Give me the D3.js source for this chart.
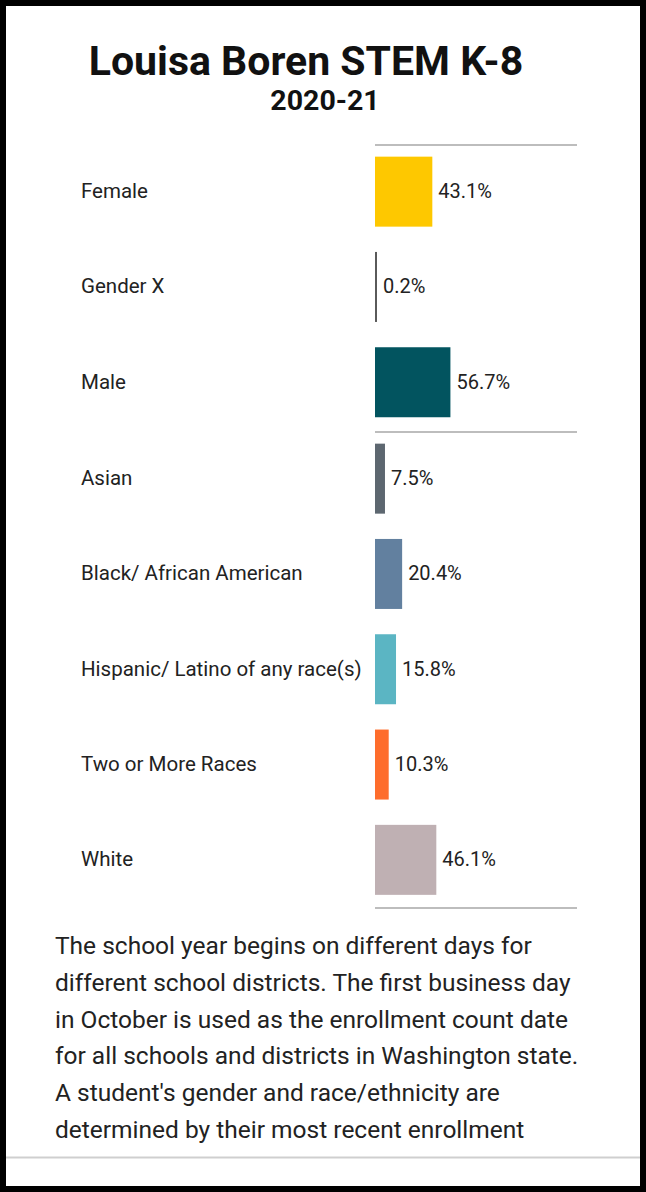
<!DOCTYPE html>
<html>
<head>
<meta charset="utf-8">
<script src="https://cdn.jsdelivr.net/npm/d3@7"></script>
<style>
html,body{margin:0;padding:0;background:#fff;}
svg{display:block;}
text{font-family:Roboto,"Noto Sans",sans-serif;}
</style>
</head>
<body>
<svg id="chart" width="646" height="1192"></svg>
<script>
const titleText = "Louisa Boren STEM K-8";
const subtitleText = "2020-21";
const genderCategories = ["Female", "Gender X", "Male"];
const genderValues = [43.1, 0.2, 56.7];
const genderColors = ["#fec800", "#5a5a5a", "#02545f"];
const raceCategories = ["Asian", "Black/ African American", "Hispanic/ Latino of any race(s)", "Two or More Races", "White"];
const raceValues = [7.5, 20.4, 15.8, 10.3, 46.1];
const raceColors = ["#5d6770", "#62809f", "#5bb5c3", "#fe6d2c", "#bfb0b3"];
const noteLines = [
  "The school year begins on different days for",
  "different school districts. The first business day",
  "in October is used as the enrollment count date",
  "for all schools and districts in Washington state.",
  "A student's gender and race/ethnicity are",
  "determined by their most recent enrollment"
];

const svg = d3.select("#chart");
const W = 646, H = 1192;

svg.append("rect").attr("x",0).attr("y",0).attr("width",W).attr("height",H).attr("fill","#fff");

// title
svg.append("text").attr("x",306).attr("y",75).attr("text-anchor","middle")
  .attr("font-size",41).attr("font-weight",700).attr("fill","#111").text(titleText);
svg.append("text").attr("x",325).attr("y",110).attr("text-anchor","middle")
  .attr("font-size",28.5).attr("font-weight",700).attr("fill","#111").text(subtitleText);

const x = d3.scaleLinear().domain([0,100]).range([0,133]);
const x0 = 375, lineEnd = 577, labelX = 81;
const rowPitch = 95.3, barH = 70;

const genderData = genderCategories.map((c,i)=>({cat:c, v:genderValues[i], col:genderColors[i]}));
const raceData = raceCategories.map((c,i)=>({cat:c, v:raceValues[i], col:raceColors[i]}));

function drawGroup(data, top) {
  const y = d3.scaleBand().domain(data.map(d=>d.cat))
    .range([top, top + rowPitch*data.length]).paddingInner(1-barH/rowPitch).paddingOuter((1-barH/rowPitch)/2);
  const g = svg.append("g");
  g.selectAll("rect.bar").data(data).join("rect").attr("class","bar")
    .attr("x",x0).attr("y",d=>y(d.cat)).attr("height",y.bandwidth())
    .attr("width",d=>Math.max(x(d.v),2)).attr("fill",d=>d.col);
  g.selectAll("text.lab").data(data).join("text").attr("class","lab")
    .attr("x",labelX).attr("y",d=>y(d.cat)+y.bandwidth()/2+6.5)
    .attr("font-size",20.5).attr("fill","#222").text(d=>d.cat);
  g.selectAll("text.val").data(data).join("text").attr("class","val")
    .attr("x",d=>x0+Math.max(x(d.v),2)+6).attr("y",d=>y(d.cat)+y.bandwidth()/2+6.5)
    .attr("font-size",20).attr("fill","#222").text(d=>d.v.toFixed(1)+"%");
}

// separators
[145, 432, 908].forEach(yy=>{
  svg.append("line").attr("x1",x0).attr("x2",lineEnd).attr("y1",yy).attr("y2",yy)
    .attr("stroke","#bdbdbd").attr("stroke-width",2);
});

drawGroup(genderData, 144);
drawGroup(raceData, 431);

// note text
const note = svg.append("g");
note.selectAll("text").data(noteLines).join("text")
  .attr("x",55).attr("y",(d,i)=>954 + i*36.8)
  .attr("font-size",24.5).attr("fill","#222").text(d=>d);

// bottom bar region
svg.append("rect").attr("x",0).attr("y",1157).attr("width",W).attr("height",H-1157).attr("fill","#fff");
svg.append("line").attr("x1",6).attr("x2",641).attr("y1",1157.5).attr("y2",1157.5)
  .attr("stroke","#cfcfcf").attr("stroke-width",2);

// frame
svg.append("rect").attr("x",3).attr("y",3).attr("width",W-6).attr("height",H-6)
  .attr("fill","none").attr("stroke","#000").attr("stroke-width",6);
</script>
</body>
</html>
